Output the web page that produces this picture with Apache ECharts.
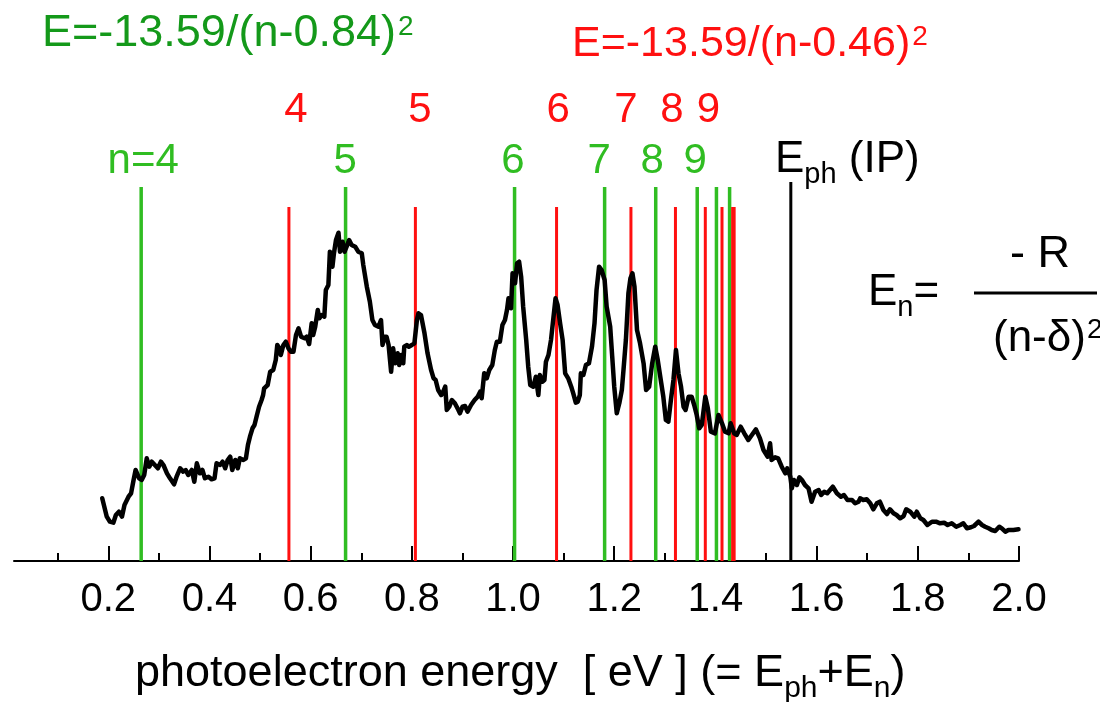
<!DOCTYPE html>
<html><head><meta charset="utf-8">
<script src="https://cdn.jsdelivr.net/npm/echarts@6/dist/echarts.min.js"></script>
<style>html,body{margin:0;padding:0;background:#fff}#c{width:1100px;height:702px}</style>
</head><body><div id="c"></div>
<script>
// ---- data ----
const majorTicks = [0.2,0.4,0.6,0.8,1.0,1.2,1.4,1.6,1.8,2.0];
const minorTicks = [0.1,0.3,0.5,0.7,0.9,1.1,1.3,1.5,1.7,1.9];
// photoelectron spectrum: [energy eV, intensity (arb. units)]
const spectrum = [
[0.188,62.7],[0.197,44.3],[0.203,39.3],[0.210,38.3],[0.215,46],[0.221,49.3],[0.227,44.3],[0.232,56],[0.240,64.3],[0.245,67.7],[0.250,81],[0.254,91],[0.261,82.7],[0.266,81],[0.271,86],[0.276,102.7],[0.281,94.3],[0.286,99.3],[0.292,96],[0.298,92.7],[0.304,99.3],[0.309,96],[0.316,87.7],[0.322,82.7],[0.330,76.7],[0.335,84.3],[0.342,92.7],[0.348,89.3],[0.353,91],[0.358,86],[0.365,91],[0.370,79.3],[0.375,97.7],[0.381,87.7],[0.386,91],[0.391,82.7],[0.398,84.3],[0.404,81.7],[0.410,82.7],[0.414,97.7],[0.421,96],[0.426,99.3],[0.431,92.7],[0.436,101],[0.441,104.3],[0.445,91],[0.451,101],[0.456,92.7],[0.460,102.7],[0.467,101],[0.472,102.7],[0.476,116],[0.480,124.3],[0.485,132.7],[0.489,136],[0.493,144.3],[0.498,154.3],[0.503,161],[0.506,166],
[0.508,172.7],[0.515,176],[0.520,189.3],[0.526,191],[0.531,201],[0.534,216],[0.538,212.7],[0.541,206],[0.546,216],[0.551,219.3],[0.556,212.7],[0.561,209.3],[0.566,209.3],[0.571,226],[0.576,232.7],[0.581,224.3],[0.588,222.7],[0.592,224.3],[0.597,217],[0.602,237.7],[0.605,226],[0.609,234.3],[0.614,251],[0.617,242.7],[0.622,246],[0.627,244.3],[0.630,271],[0.635,276],[0.638,309.3],[0.643,294.3],[0.646,307.7],[0.650,321],[0.655,328.3],[0.658,309.3],[0.663,319.3],[0.667,309.3],[0.671,314.3],[0.676,321],[0.681,316],[0.688,314.3],[0.694,309.3],[0.701,307.7],[0.704,296],[0.711,274.3],[0.717,259.3],[0.722,241],[0.727,236],[0.734,234.3],[0.739,241],[0.742,216],[0.746,224.3],[0.750,224.3],[0.754,216],[0.759,189.3],[0.763,212.7],[0.767,197.7],[0.772,207.7],[0.775,196],[0.779,206],[0.783,197.7],[0.785,214.3],[0.790,216],[0.794,214.3],[0.800,216],[0.805,217.7],[0.810,241],[0.813,247.7],[0.818,246],
[0.825,227.7],[0.831,207.7],[0.838,191],[0.843,182.7],[0.847,181],[0.852,171],[0.858,166],[0.862,169.3],[0.866,174.3],[0.869,151],[0.874,154.3],[0.879,161],[0.885,157.7],[0.892,151],[0.895,147.7],[0.900,154.3],[0.905,155],[0.910,149.3],[0.917,156],[0.924,161],[0.930,164.3],[0.935,169.3],[0.938,162.7],[0.943,187.7],[0.948,182.7],[0.953,191],[0.959,196],[0.964,211],[0.968,219.3],[0.974,219.3],[0.979,236],[0.984,241],[0.988,251],[0.991,262.7],[0.996,252.7],[0.999,287.7],[1.004,277.7],[1.008,297.7],[1.012,299.3],[1.016,284.3],[1.020,254.3],[1.026,221],[1.030,194.3],[1.034,176],[1.040,174.3],[1.045,184.3],[1.050,166],[1.053,186],[1.058,179.3],[1.062,181],[1.065,199.3],[1.070,206],[1.075,221],[1.080,244.3],[1.084,262.7],[1.088,256],[1.093,237.7],[1.098,221],[1.103,187.7],[1.109,182.7],[1.115,174.3],[1.119,167.7],[1.124,158.3],
[1.128,159.3],[1.132,166],[1.134,187.7],[1.139,186],[1.144,196],[1.150,197.7],[1.156,214.3],[1.161,237.7],[1.165,271],[1.170,294.3],[1.175,291],[1.181,281],[1.185,254.3],[1.192,234.3],[1.196,204.3],[1.200,174.3],[1.205,147.7],[1.210,157.7],[1.215,171],[1.218,189.3],[1.223,221],[1.228,267.7],[1.232,282.7],[1.236,287.7],[1.240,274.3],[1.245,231],[1.251,217.7],[1.258,197.7],[1.263,171],[1.269,174.3],[1.275,197.7],[1.281,214.3],[1.286,201],[1.293,177.7],[1.297,164.3],[1.302,141],[1.307,139.3],[1.312,161],[1.317,181],[1.322,211],[1.327,187.7],[1.332,174.3],[1.337,154.3],[1.341,151],[1.347,164.3],[1.353,164.3],[1.358,156],[1.363,146],[1.368,132.7],[1.373,136],[1.380,164.3],[1.385,152.7],[1.391,129.3],[1.399,127.7],[1.406,146],[1.413,137.7],[1.419,129.3],[1.426,127.7],[1.430,137.7],[1.437,127.7],[1.442,126],[1.450,134.3],[1.457,127.7],[1.465,121],[1.472,126],[1.480,131.7],[1.488,122.7],[1.495,111],[1.503,104.3],[1.508,117.7],[1.511,101],[1.518,103.7],[1.524,102.7],[1.531,94.3],[1.538,87.7],[1.542,92.7],[1.548,84.3],[1.551,72.7],[1.555,81],[1.561,76],[1.566,83.7],[1.571,81],[1.577,76],[1.584,72.7],[1.590,59.3],[1.597,69.3],[1.604,71],[1.609,66],[1.615,69.3],[1.621,67.7],[1.632,74.3],[1.640,67.7],[1.648,64.3],[1.654,66],[1.661,61],[1.670,61],[1.676,57.7],[1.683,59.3],
[1.686,62.7],[1.692,61],[1.699,61.7],[1.706,57.7],[1.712,51.7],[1.719,57.7],[1.725,59.3],[1.732,51],[1.739,47],[1.745,51.7],[1.752,47.7],[1.758,46],[1.765,42.7],[1.772,45],[1.777,51.7],[1.785,49.3],[1.793,44.3],[1.798,49.3],[1.805,42.7],[1.811,41],[1.819,36],[1.828,39.3],[1.836,39.3],[1.844,37.7],[1.852,38.3],[1.859,36],[1.867,37.7],[1.876,34.3],[1.884,36],[1.890,37.7],[1.897,32.7],[1.905,33.7],[1.911,35],[1.920,39.3],[1.927,36],[1.933,34.3],[1.940,32.7],[1.946,31],[1.953,30],[1.961,34.3],[1.966,32.7],[1.973,29.3],[1.979,31],[1.989,31],[1.999,31.7]
];
// Rydberg series line positions (eV)
const greenLines = [0.265,0.669,1.003,1.181,1.282,1.364,1.402,1.428];
const redLines   = [0.557,0.807,1.086,1.233,1.321,1.380,1.413,1.434,1.437];
const ipLine     = [1.549];
const greenLabels = ['n=4','5','6','7','8','9'];
const greenLabelX = [0.269,0.668,1.000,1.170,1.275,1.360];
const redLabels   = ['4','5','6','7','8','9'];
const redLabelX   = [0.571,0.816,1.089,1.223,1.314,1.386];

// ---- styling / layout ----
const FONT = '"Liberation Sans", Arial, sans-serif';
const GREEN = '#30bd22', DGREEN = '#14991a', RED = '#ff1010';
const PLOT_H = 561;              // y-axis span (grid top..axis line)
const GREEN_TOP = 374, RED_TOP = 354, IP_TOP = 379;
const GREEN_LABEL_BASE = 385, RED_LABEL_BASE = 436, LABEL_SIZE = 42;

function vline(color, width) {
  return function (params, api) {
    const p0 = api.coord([api.value(0), 0]);
    const p1 = api.coord([api.value(0), api.value(1)]);
    return {type:'line', shape:{x1:p0[0], y1:p0[1], x2:p1[0], y2:p1[1]},
            style:{stroke:color, lineWidth:width}};
  };
}
function labelItem(texts, color) {
  return function (params, api) {
    const p = api.coord([api.value(0), api.value(1)]);
    return {type:'text', x:p[0], y:p[1] - 0.35*LABEL_SIZE,
            style:{text:texts[params.dataIndex], fill:color, font:LABEL_SIZE+'px '+FONT,
                   align:'center', verticalAlign:'middle', textAlign:'center', textVerticalAlign:'middle'}};
  };
}

const mctx = document.createElement('canvas').getContext('2d');
function pieces(x, baseline, parts, color) {
  const els = [];
  let cx = x;
  for (const p of parts) {
    const font = p.size + 'px ' + FONT;
    mctx.font = font;
    const w = mctx.measureText(p.t).width;
    cx += (p.dx || 0);
    els.push({type:'text', x:cx, y:baseline + (p.dy || 0) - 0.35*p.size, silent:true,
      style:{text:p.t, font:font, fill:p.color || color,
             align:'left', verticalAlign:'middle', textAlign:'left', textVerticalAlign:'middle'}});
    cx += w;
  }
  return els;
}

const graphics = [].concat(
  pieces(42, 49, [{t:'E=-13.59/(n-0.84)', size:45}, {t:'2', size:28, dy:-12, dx:2}], DGREEN),
  pieces(572, 59, [{t:'E=-13.59/(n-0.46)', size:43}, {t:'2', size:28, dy:-12, dx:2}], RED),
  pieces(775, 175, [{t:'E', size:44}, {t:'ph', size:29, dy:10}, {t:' (IP)', size:44}], '#000'),
  pieces(868, 308, [{t:'E', size:44}, {t:'n', size:29, dy:10}, {t:'=', size:44}], '#000'),
  pieces(1010, 270, [{t:'- R', size:45}], '#000'),
  pieces(993, 354, [{t:'(n-δ)', size:44}, {t:'2', size:28, dy:-14, dx:1}], '#000'),
  pieces(135, 689, [{t:'photoelectron energy  [ eV ] (= E', size:45}, {t:'ph', size:30, dy:10},
                    {t:'+E', size:45}, {t:'n', size:30, dy:10}, {t:')', size:45}], '#000'),
  [{type:'line', silent:true, shape:{x1:974, y1:293, x2:1097, y2:293}, style:{stroke:'#000', lineWidth:3}}]
);

const chart = echarts.init(document.getElementById('c'), null, {renderer:'canvas'});
chart.setOption({
  animation:false,
  backgroundColor:'#fff',
  grid:[
    {left:7.1, right:81, top:0, bottom:141},
    {left:14, right:81, top:0, bottom:141}
  ],
  xAxis:[
    {type:'value', gridIndex:0, min:0, max:2, position:'bottom',
     axisLine:{show:false}, splitLine:{show:false},
     axisTick:{show:true, inside:true, length:15, customValues:majorTicks, lineStyle:{color:'#000', width:2}},
     axisLabel:{show:true, customValues:majorTicks, margin:19, color:'#000', fontSize:40, fontFamily:FONT,
                formatter:v => v.toFixed(1)}},
    {type:'value', gridIndex:0, min:0, max:2, position:'bottom', offset:0,
     axisLine:{show:false}, splitLine:{show:false},
     axisTick:{show:true, inside:true, length:8, customValues:minorTicks, lineStyle:{color:'#000', width:2}},
     axisLabel:{show:false}},
    {type:'value', gridIndex:1, min:0, max:1, position:'bottom',
     axisLine:{show:true, lineStyle:{color:'#000', width:2}}, axisTick:{show:false},
     axisLabel:{show:false}, splitLine:{show:false}}
  ],
  yAxis:[
    {type:'value', gridIndex:0, min:0, max:PLOT_H, show:false},
    {type:'value', gridIndex:1, min:0, max:1, show:false}
  ],
  graphic:{elements:graphics},
  series:[
    {type:'custom', xAxisIndex:0, yAxisIndex:0, silent:true, z:2,
     renderItem:vline(GREEN, 3.5), data:greenLines.map(x => [x, GREEN_TOP])},
    {type:'custom', xAxisIndex:0, yAxisIndex:0, silent:true, z:2,
     renderItem:vline(RED, 3), data:redLines.map(x => [x, RED_TOP])},
    {type:'custom', xAxisIndex:0, yAxisIndex:0, silent:true, z:2,
     renderItem:vline('#000', 3), data:ipLine.map(x => [x, IP_TOP])},
    {type:'custom', xAxisIndex:0, yAxisIndex:0, silent:true, z:2,
     renderItem:labelItem(greenLabels, GREEN), data:greenLabelX.map(x => [x, GREEN_LABEL_BASE])},
    {type:'custom', xAxisIndex:0, yAxisIndex:0, silent:true, z:2,
     renderItem:labelItem(redLabels, RED), data:redLabelX.map(x => [x, RED_LABEL_BASE])},
    {type:'line', xAxisIndex:0, yAxisIndex:0, data:spectrum, showSymbol:false, symbol:'none', z:5,
     silent:true, clip:false,
     lineStyle:{color:'#000', width:4.5, join:'round', cap:'round'}}
  ]
});
</script></body></html>
